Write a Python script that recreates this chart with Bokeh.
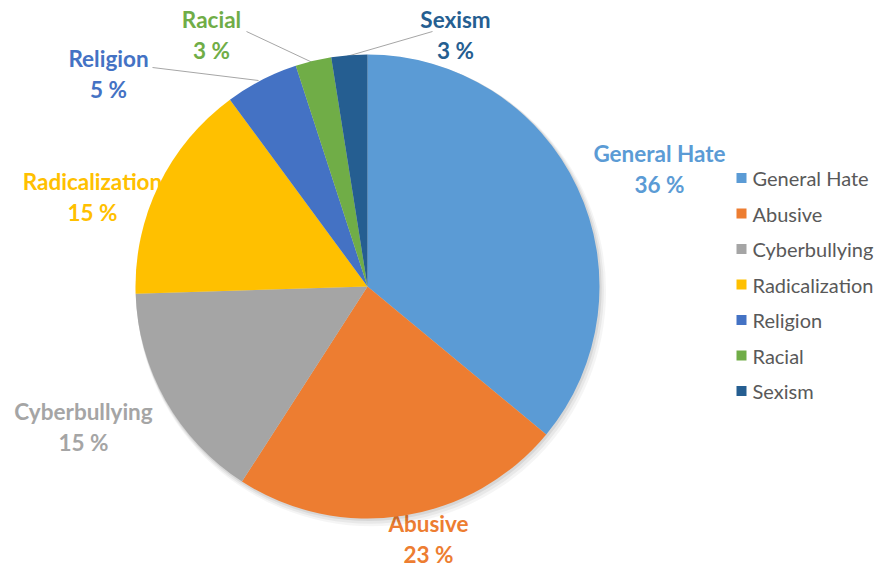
import math
from bokeh.plotting import figure
from bokeh.models import Range1d, ColumnDataSource
from bokeh.core.properties import value
from bokeh.embed import file_html
from bokeh.resources import INLINE

# ---- data ----
categories = ["General Hate", "Abusive", "Cyberbullying", "Radicalization", "Religion", "Racial", "Sexism"]
shares = [36.0, 23.1, 15.4, 15.4, 5.1, 2.5, 2.5]
colors = ["#5B9BD5", "#ED7D31", "#A5A5A5", "#FFC000", "#4472C4", "#70AD47", "#255E91"]

# ---- layout (screen pixel positions in the page) ----
W, H = 879, 567
CX, CY, R = 367, 286, 232
label_pos = [(659, 153), (428, 523), (83, 411), (92, 181), (108, 58), (211, 19), (455, 19)]
leader = {4: ((258, 80), (152, 67)), 5: ((312, 62), (246, 31)), 6: ((346, 56), (432, 31))}
legend_x, legend_y0, legend_dy = 741, 177.5, 35.5


def dx(sx):
    return sx


def dy(sy):
    return H - sy


p = figure(width=W, height=H, output_backend="svg", toolbar_location=None,
           x_range=Range1d(0, W), y_range=Range1d(0, H), min_border=0)
p.axis.visible = False
p.grid.visible = False
p.outline_line_color = None
p.background_fill_color = "white"

total = sum(shares)
cum = [0.0]
for s in shares:
    cum.append(cum[-1] + s)

# labels (drawn first, the pie covers overlapping text as in reference)
for i, (name, s) in enumerate(zip(categories, shares)):
    lx, ly = label_pos[i]
    pct = int(math.floor(s / total * 100 + 0.5))
    p.text(x=[dx(lx)], y=[dy(ly)], text=[name], text_align="center", text_baseline="middle",
           text_font=value("Lato"), text_font_style="bold", text_font_size="22.5px", text_color=colors[i])
    p.text(x=[dx(lx)], y=[dy(ly + 31)], text=[f"{pct} %"], text_align="center", text_baseline="middle",
           text_font=value("Lato"), text_font_style="bold", text_font_size="22.5px", text_color=colors[i])

# leader lines
for i, ((x0, y0), (x1, y1)) in leader.items():
    p.line(x=[dx(x0), dx(x1)], y=[dy(y0), dy(y1)], line_color="#A6A6A6", line_width=1)

# soft shadow
for k, a in [(6, 0.04), (4, 0.05), (2, 0.07)]:
    p.circle(x=[dx(CX) + k * 0.6], y=[dy(CY) - k * 0.8], radius=R + k * 0.5,
             fill_color="black", fill_alpha=a, line_color=None)

# pie wedges (clockwise from 12 o'clock)
starts = [math.pi / 2 - 2 * math.pi * cum[i + 1] / total for i in range(len(shares))]
ends = [math.pi / 2 - 2 * math.pi * cum[i] / total for i in range(len(shares))]
src = ColumnDataSource(dict(start=starts, end=ends, color=colors))
p.wedge(x=dx(CX), y=dy(CY), radius=R, start_angle="start", end_angle="end",
        fill_color="color", line_color=None, source=src)

# legend
for i, name in enumerate(categories):
    yy = legend_y0 + i * legend_dy
    p.rect(x=[dx(legend_x)], y=[dy(yy)], width=10, height=10, fill_color=colors[i], line_color=None)
    p.text(x=[dx(legend_x + 11)], y=[dy(yy)], text=[name], text_align="left", text_baseline="middle",
           text_font=value("Lato"), text_font_size="20px", text_color="#595959")

open("out.html", "w").write(file_html(p, INLINE))
